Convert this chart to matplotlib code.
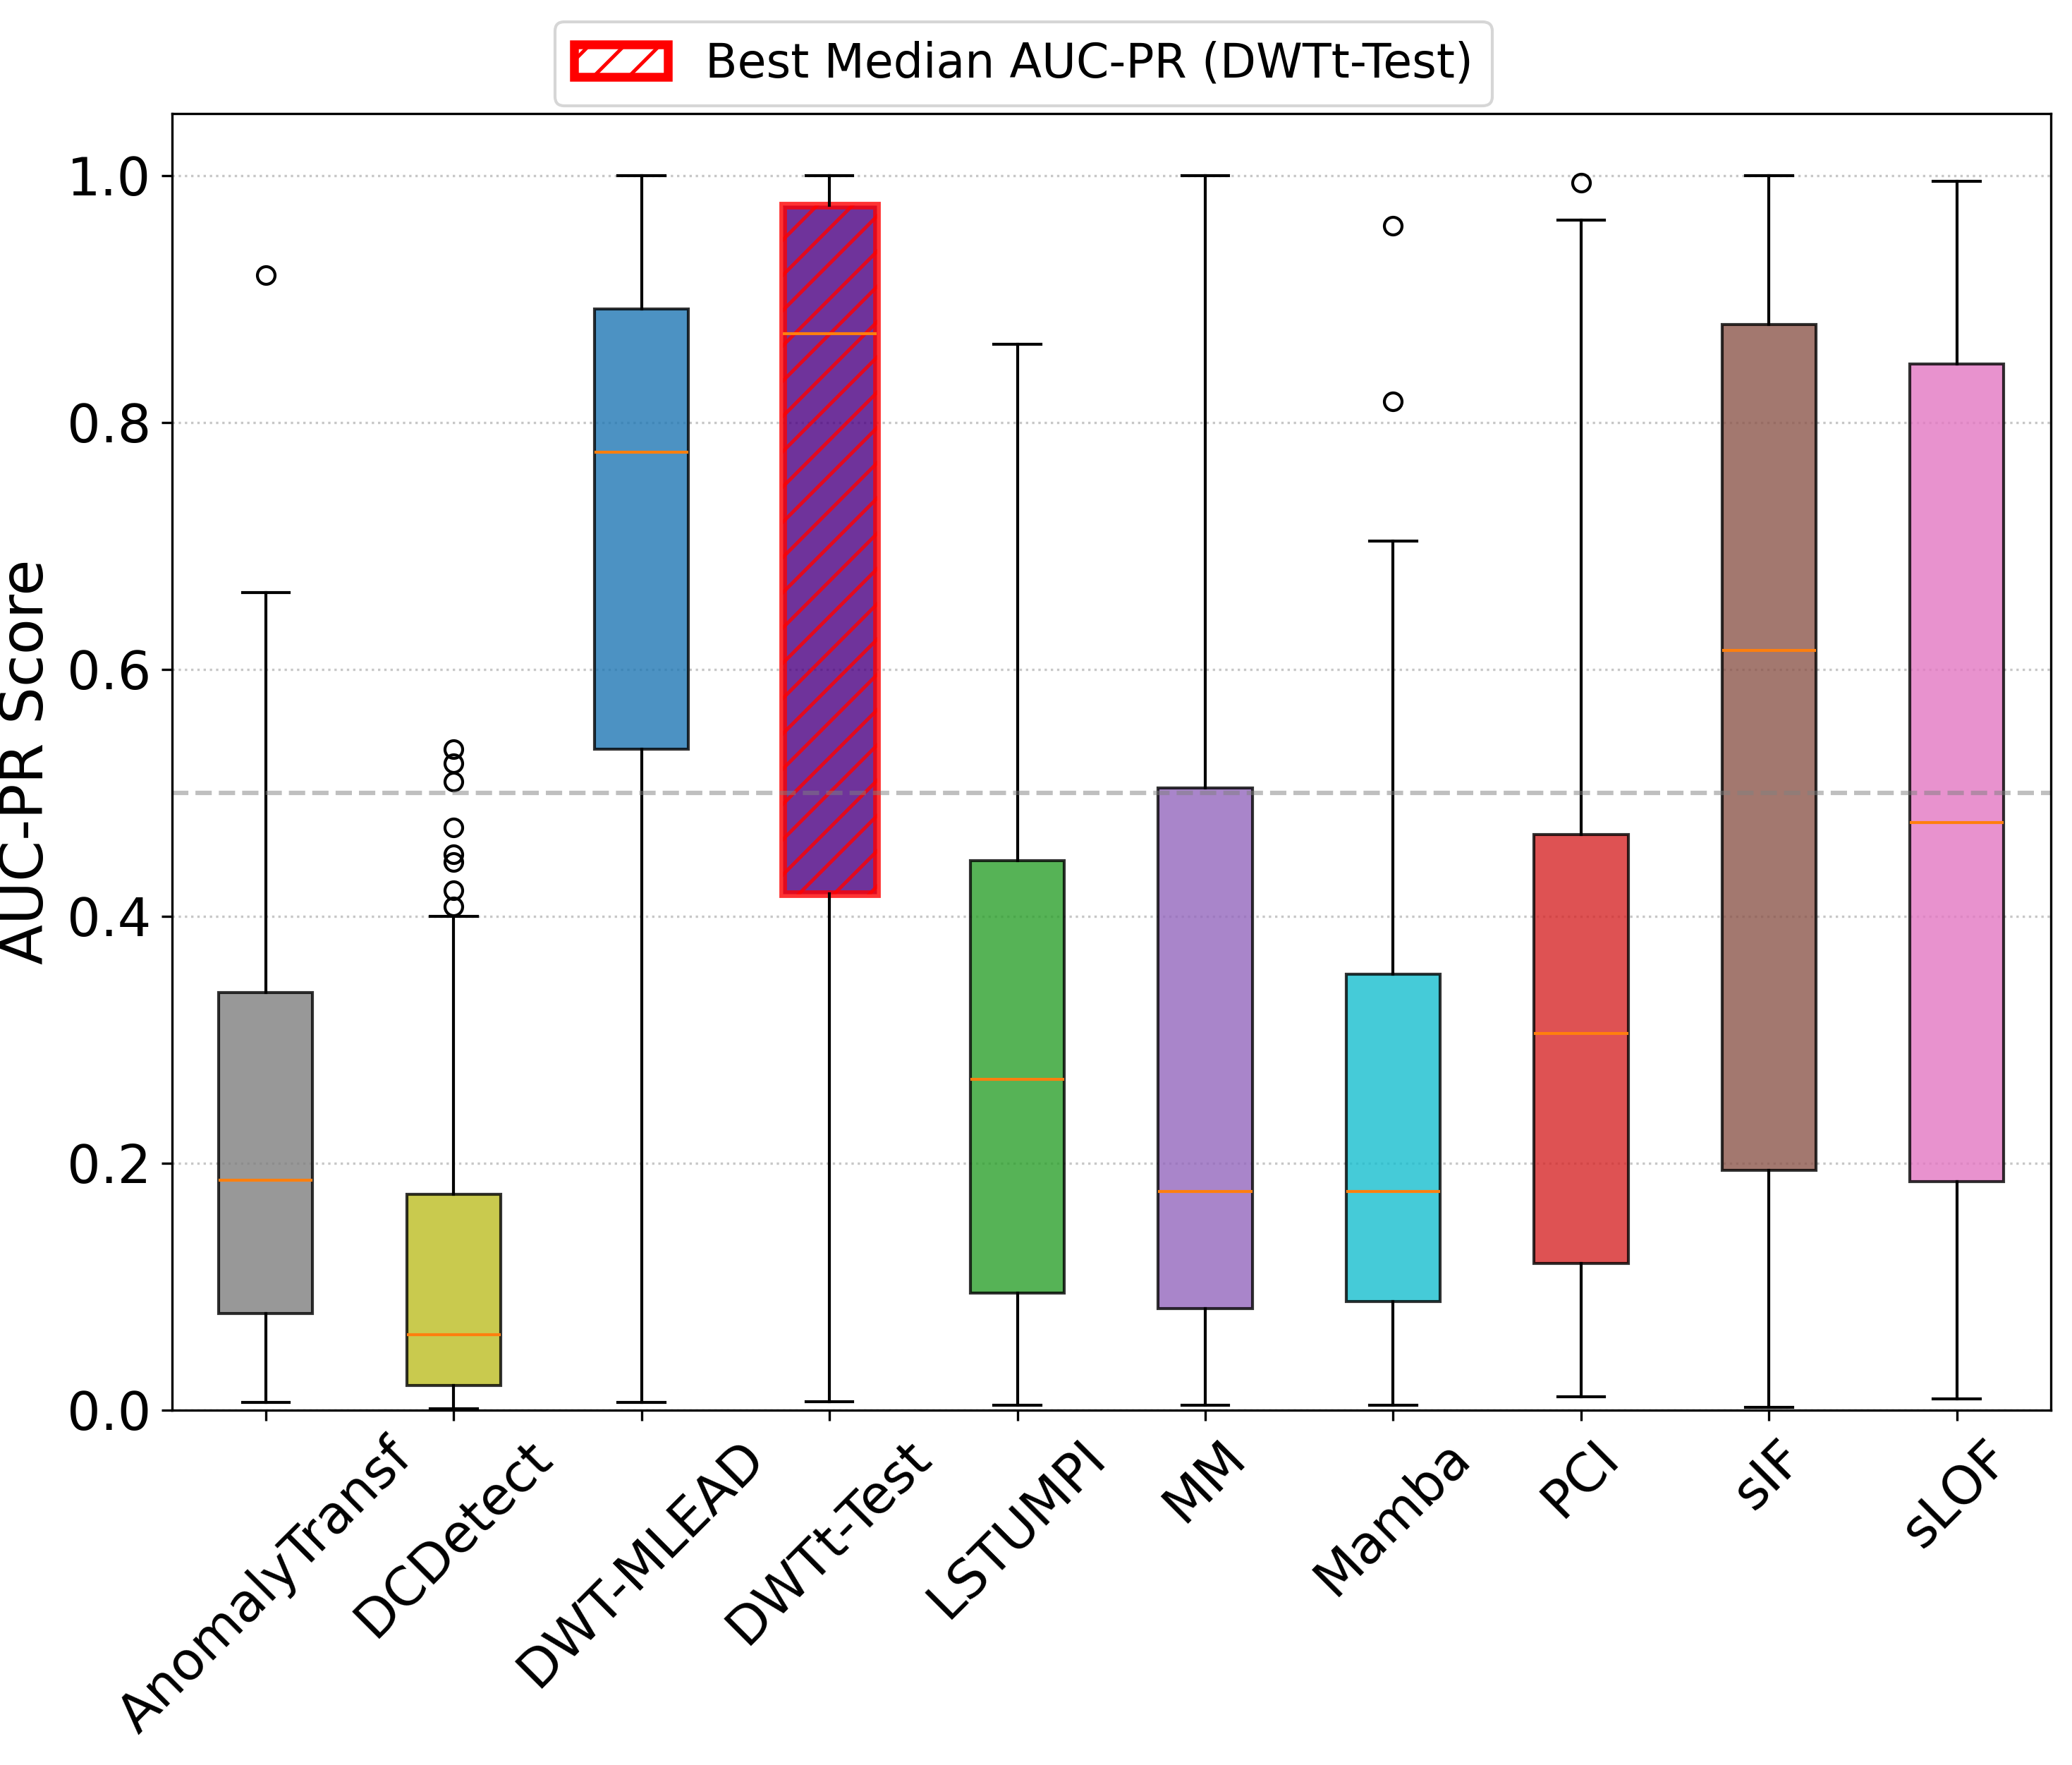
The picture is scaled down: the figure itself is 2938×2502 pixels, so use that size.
import matplotlib
matplotlib.use("Agg")
import matplotlib.pyplot as plt
from matplotlib.patches import Patch

methods = ["AnomalyTransf", "DCDetect", "DWT-MLEAD", "DWTt-Test", "LSTUMPI",
           "MM", "Mamba", "PCI", "sIF", "sLOF"]
whislo = [0.006, 0.001, 0.006, 0.007, 0.004, 0.004, 0.004, 0.011, 0.002, 0.009]
q1     = [0.078, 0.020, 0.535, 0.418, 0.095, 0.082, 0.088, 0.119, 0.194, 0.185]
med    = [0.186, 0.061, 0.776, 0.872, 0.268, 0.177, 0.177, 0.305, 0.615, 0.476]
q3     = [0.338, 0.175, 0.892, 0.976, 0.445, 0.504, 0.353, 0.466, 0.879, 0.847]
whishi = [0.662, 0.400, 1.000, 1.000, 0.863, 1.000, 0.704, 0.964, 1.000, 0.995]
fliers = [[0.919],
          [0.535, 0.524, 0.509, 0.472, 0.450, 0.444, 0.421, 0.408],
          [], [], [], [],
          [0.959, 0.817],
          [0.994],
          [], []]
colors = ["tab:gray", "tab:olive", "tab:blue", "indigo", "tab:green",
          "tab:purple", "tab:cyan", "tab:red", "tab:brown", "tab:pink"]
best = "DWTt-Test"

plt.rcParams["hatch.linewidth"] = 1.2

stats = []
for i, m in enumerate(methods):
    stats.append(dict(label=m, whislo=whislo[i], q1=q1[i], med=med[i],
                      q3=q3[i], whishi=whishi[i], fliers=fliers[i]))

fig = plt.figure(figsize=(2938 / 300, 2502 / 300), dpi=300)
ax = fig.add_axes([243.6 / 2938, 1 - 1999 / 2502, (2908 - 243.6) / 2938, (1999 - 161) / 2502])

bp = ax.bxp(stats, patch_artist=True, widths=0.5)
for i, box in enumerate(bp["boxes"]):
    box.set_facecolor(colors[i])
    box.set_alpha(0.8)
    if methods[i] == best:
        box.set_edgecolor("red")
        box.set_linewidth(2.6)
        box.set_hatch("//")

ax.axhline(0.5, color="gray", linestyle="--", linewidth=1.5, alpha=0.5)
ax.grid(axis="y", linestyle=":", alpha=0.7)
ax.set_axisbelow(True)
ax.set_ylim(0, 1.05)
ax.set_xlim(0.5, len(methods) + 0.5)
ax.set_yticks([0.0, 0.2, 0.4, 0.6, 0.8, 1.0])
ax.set_ylabel("AUC-PR Score", fontsize=20)
ax.tick_params(axis="both", labelsize=18)
plt.setp(ax.get_xticklabels(), rotation=45)

handle = Patch(facecolor="white", edgecolor="red", hatch="//", linewidth=3,
               label=f"Best Median AUC-PR ({best})")
fig.legend(handles=[handle], loc="upper center", bbox_to_anchor=(0.494, 1.001),
           fontsize=16)

fig.savefig("out.png", dpi=300)
